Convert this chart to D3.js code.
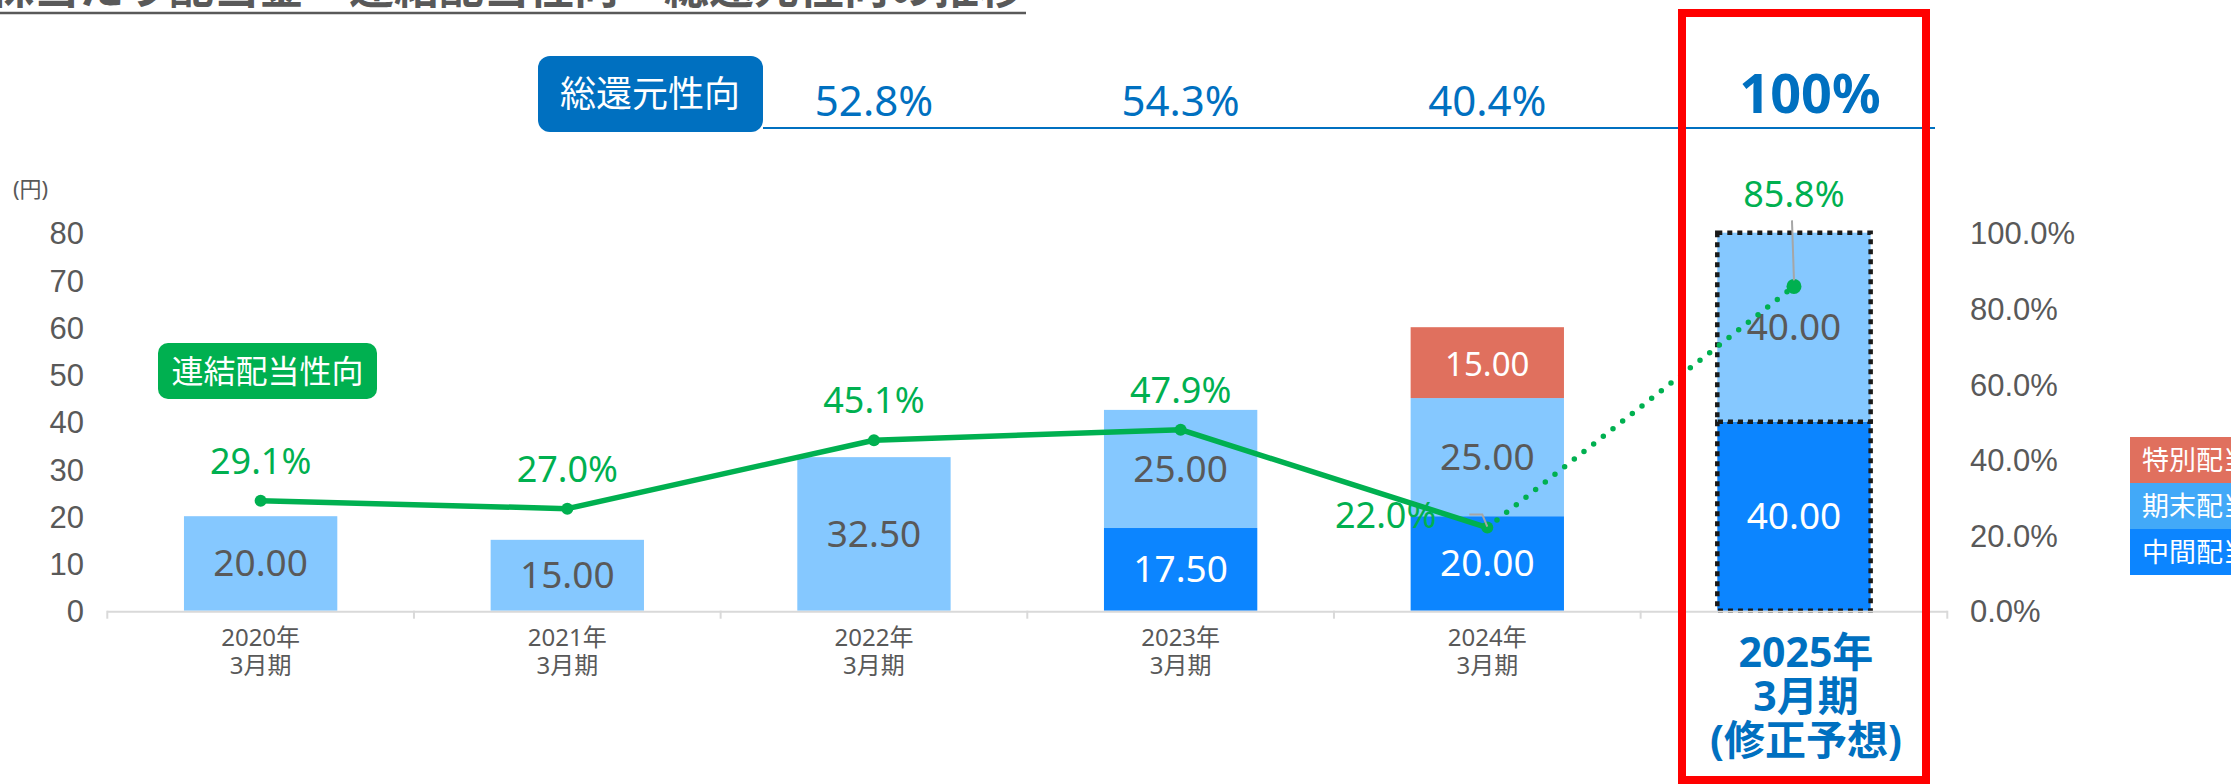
<!DOCTYPE html>
<html>
<head>
<meta charset="utf-8">
<script src="https://cdn.jsdelivr.net/npm/d3@7"></script>
<style>
  body { margin: 0; background: #fff; }
  svg { display: block; font-family: 'Noto Sans', 'Noto Sans CJK JP', sans-serif; }
</style>
</head>
<body>
<svg id="chart" width="2231" height="784"></svg>
<script>
// values
var years = ['2020年', '2021年', '2022年', '2023年', '2024年', '2025年'];
var periods = ['3月期', '3月期', '3月期', '3月期', '3月期', '3月期'];
var interim = [0, 0, 0, 17.5, 20, 40];
var year_end = [20, 15, 32.5, 25, 25, 40];
var special = [0, 0, 0, 0, 15, 0];
var payout = [29.1, 27.0, 45.1, 47.9, 22.0, 85.8];
var total_return = [null, null, 52.8, 54.3, 40.4, 100];
var yen_ticks = [0, 10, 20, 30, 40, 50, 60, 70, 80];
var pct_ticks = [0, 20, 40, 60, 80, 100];
var legend_names = ['特別配当', '期末配当', '中間配当'];

var gray = '#595959', green = '#00b050', blue = '#0070c0';
var colors = {interim: '#0c85ff', year_end: '#85c8ff', special: '#e0705e'};
var legend_colors = ['#e0705e', '#42a9f8', '#0c85ff'];

var svg = d3.select('#chart');

var x = d3.scaleBand().domain(years).range([107.3, 1947.3]).paddingInner(0.5).paddingOuter(0.25);
var y = d3.scaleLinear().domain([0, 80]).range([610.7, 232.7]);
var y_pct = d3.scaleLinear().domain([0, 100]).range([610.7, 232.7]);
var cx = d => x(d) + x.bandwidth() / 2;
var last = years[years.length - 1];

// title (cut by the top of the slide)
svg.append('text')
   .text('1株当たり配当金・連結配当性向・総還元性向の推移')
   .attr('x', 1024).attr('y', 4)
   .attr('text-anchor', 'end')
   .attr('font-size', 45).attr('font-weight', 'bold')
   .attr('fill', gray);
svg.append('line')
   .attr('x1', 0).attr('x2', 1026).attr('y1', 13).attr('y2', 13)
   .attr('stroke', gray).attr('stroke-width', 2.5);

// total return ratio header
svg.append('rect')
   .attr('x', 538).attr('y', 56).attr('width', 225).attr('height', 76).attr('rx', 12)
   .attr('fill', blue);
svg.append('text')
   .text('総還元性向')
   .attr('x', 650).attr('y', 107).attr('text-anchor', 'middle')
   .attr('font-size', 36).attr('fill', '#fff');
svg.append('line')
   .attr('x1', 763).attr('x2', 1935).attr('y1', 128).attr('y2', 128)
   .attr('stroke', blue).attr('stroke-width', 2);

var tr = years.map((d, i) => ({year: d, value: total_return[i]})).filter(d => d.value != null);
svg.append('g')
   .selectAll('text')
   .data(tr)
   .enter()
   .append('text')
   .text(d => d.value == 100 ? d.value + '%' : d.value.toFixed(1) + '%')
   .attr('x', d => d.year == last ? cx(d.year) + 16 : cx(d.year))
   .attr('y', d => d.year == last ? 113 : 116)
   .attr('text-anchor', 'middle')
   .attr('font-size', d => d.year == last ? 54 : 42)
   .attr('font-weight', d => d.year == last ? 'bold' : 'normal')
   .attr('fill', blue);

// left axis (yen)
svg.append('text')
   .text('(円)')
   .attr('x', 13).attr('y', 197)
   .attr('font-size', 22).attr('fill', gray);

var left_axis = svg.append('g')
   .attr('transform', 'translate(84,0)')
   .call(d3.axisLeft(y).tickValues(yen_ticks).tickSize(0).tickPadding(0));
left_axis.select('.domain').remove();
left_axis.selectAll('text')
   .attr('font-family', null).attr('font-size', 31).attr('fill', gray)
   .attr('dy', '0.36em');

// right axis (percent)
var right_axis = svg.append('g')
   .attr('transform', 'translate(1970,0)')
   .call(d3.axisRight(y_pct).tickValues(pct_ticks).tickSize(0).tickPadding(0)
          .tickFormat(d => d.toFixed(1) + '%'));
right_axis.select('.domain').remove();
right_axis.selectAll('text')
   .attr('font-family', null).attr('font-size', 31).attr('fill', gray)
   .attr('dy', '0.36em');

// stacked bars
var rows = years.map((d, i) => ({year: d, interim: interim[i], year_end: year_end[i], special: special[i]}));
var keys = ['interim', 'year_end', 'special'];
var stacked = d3.stack().keys(keys)(rows);

var bars = svg.append('g');
stacked.forEach(layer => {
  var segs = layer.filter(d => d[1] - d[0] > 0);

  bars.append('g')
      .selectAll('rect')
      .data(segs)
      .enter()
      .append('rect')
      .attr('x', d => x(d.data.year))
      .attr('width', x.bandwidth())
      .attr('y', d => y(d[1]))
      .attr('height', d => y(d[0]) - y(d[1]))
      .attr('fill', colors[layer.key]);

  bars.append('g')
      .selectAll('text')
      .data(segs)
      .enter()
      .append('text')
      .text(d => (d[1] - d[0]).toFixed(2))
      .attr('x', d => cx(d.data.year))
      .attr('y', d => (y(d[0]) + y(d[1])) / 2 + 13)
      .attr('text-anchor', 'middle')
      .attr('font-size', layer.key == 'special' ? 33 : 37)
      .attr('fill', layer.key == 'year_end' ? gray : '#fff');

  // forecast year gets a dotted outline
  bars.append('g')
      .selectAll('rect')
      .data(segs.filter(d => d.data.year == last))
      .enter()
      .append('rect')
      .attr('x', d => x(d.data.year))
      .attr('width', x.bandwidth())
      .attr('y', d => y(d[1]))
      .attr('height', d => y(d[0]) - y(d[1]))
      .attr('fill', 'none')
      .attr('stroke', '#1a1a1a')
      .attr('stroke-width', 4.5)
      .attr('stroke-dasharray', '5 5');
});

// x axis
var x0 = x.range()[0], x1 = x.range()[1];
svg.append('line')
   .attr('x1', x0).attr('x2', x1).attr('y1', y(0) + 1).attr('y2', y(0) + 1)
   .attr('stroke', '#d9d9d9').attr('stroke-width', 2);
svg.append('g')
   .selectAll('line')
   .data(d3.range(years.length + 1))
   .enter()
   .append('line')
   .attr('x1', i => x0 + i * x.step()).attr('x2', i => x0 + i * x.step())
   .attr('y1', y(0)).attr('y2', y(0) + 8)
   .attr('stroke', '#d9d9d9').attr('stroke-width', 2);

var xl = svg.append('g')
   .selectAll('text')
   .data(years.slice(0, -1))
   .enter()
   .append('text')
   .attr('text-anchor', 'middle')
   .attr('font-size', 24)
   .attr('fill', gray);
xl.append('tspan').attr('x', d => cx(d)).attr('y', 646).text(d => d);
xl.append('tspan').attr('x', d => cx(d)).attr('y', 674).text((d, i) => periods[i]);

var fl = svg.append('text')
   .attr('text-anchor', 'middle')
   .attr('font-size', 41).attr('font-weight', 'bold')
   .attr('fill', blue);
[last, periods[periods.length - 1], '(修正予想)'].forEach((t, i) => {
  fl.append('tspan').attr('x', cx(last) + 12).attr('y', 667 + i * 44).text(t);
});

// payout ratio line
var pts = years.map((d, i) => ({year: d, value: payout[i]}));
var line = d3.line().x(d => cx(d.year)).y(d => y_pct(d.value));

svg.append('path')
   .attr('d', line(pts.slice(0, -1)))
   .attr('fill', 'none').attr('stroke', green).attr('stroke-width', 5.5)
   .attr('stroke-linejoin', 'round');
svg.append('path')
   .attr('d', line(pts.slice(-2)))
   .attr('fill', 'none').attr('stroke', green).attr('stroke-width', 5.5)
   .attr('stroke-linecap', 'round').attr('stroke-dasharray', '0 12.3');

svg.append('g')
   .selectAll('circle')
   .data(pts)
   .enter()
   .append('circle')
   .attr('cx', d => cx(d.year)).attr('cy', d => y_pct(d.value))
   .attr('r', d => d.year == last ? 7.5 : 6)
   .attr('fill', green);

// leader lines for labels placed away from their points
var p24 = pts[4], p25 = pts[5];
svg.append('path')
   .attr('d', 'M' + (cx(p24.year) - 18) + ',' + (y_pct(p24.value) - 13) + 'h13l5,12')
   .attr('fill', 'none').attr('stroke', '#a6a6a6').attr('stroke-width', 2);
svg.append('line')
   .attr('x1', cx(p25.year) - 2).attr('y1', y_pct(p25.value) - 66)
   .attr('x2', cx(p25.year)).attr('y2', y_pct(p25.value) - 6)
   .attr('stroke', '#a6a6a6').attr('stroke-width', 2);

svg.append('g')
   .selectAll('text')
   .data(pts)
   .enter()
   .append('text')
   .text(d => d.value.toFixed(1) + '%')
   .attr('x', d => d.year == '2024年' ? cx(d.year) - 51 : cx(d.year))
   .attr('y', d => d.year == '2024年' ? y_pct(d.value) : d.year == last ? y_pct(d.value) - 79 : y_pct(d.value) - 27)
   .attr('text-anchor', d => d.year == '2024年' ? 'end' : 'middle')
   .attr('font-size', 36)
   .attr('fill', green);

svg.append('rect')
   .attr('x', 158).attr('y', 343).attr('width', 219).attr('height', 56).attr('rx', 10)
   .attr('fill', green);
svg.append('text')
   .text('連結配当性向')
   .attr('x', 267.5).attr('y', 383).attr('text-anchor', 'middle')
   .attr('font-size', 32).attr('fill', '#fff');

// legend (runs off the right edge)
var lg = svg.append('g')
   .selectAll('g')
   .data(legend_names)
   .enter()
   .append('g')
   .attr('transform', (d, i) => 'translate(2130,' + (437 + i * 46) + ')');
lg.append('rect')
   .attr('width', 160).attr('height', 46)
   .attr('fill', (d, i) => legend_colors[i]);
lg.append('text')
   .text(d => d)
   .attr('x', 12).attr('y', 33)
   .attr('font-size', 27).attr('fill', '#fff');

// highlight frame for the forecast year
svg.append('rect')
   .attr('x', 1682).attr('y', 13).attr('width', 244).attr('height', 767)
   .attr('fill', 'none').attr('stroke', '#ff0000').attr('stroke-width', 8);
</script>
</body>
</html>
